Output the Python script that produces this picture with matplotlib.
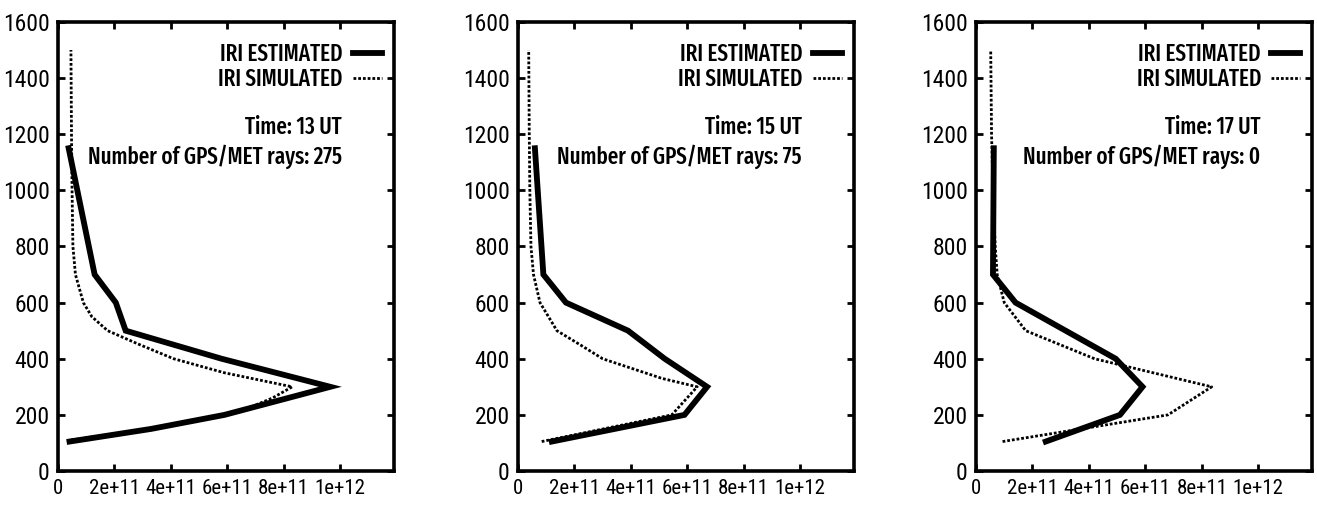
import matplotlib
matplotlib.use("Agg")
import matplotlib.pyplot as plt
from matplotlib import font_manager

# ---- data ----
times = ["13", "15", "17"]
rays = ["275", "75", "0"]

est_alt_13 = [105, 150, 200, 300, 400, 500, 600, 700, 1150]
est_ne_13 = [0.41e11, 3.3e11, 5.9e11, 9.65e11, 5.8e11, 2.4e11, 2.05e11, 1.3e11, 0.38e11]
sim_alt_13 = [110, 150, 210, 260, 300, 350, 400, 450, 500, 550, 600, 700, 800, 1000, 1200, 1500]
sim_ne_13 = [0.45e11, 3.2e11, 6.4e11, 7.6e11, 8.3e11, 5.9e11, 4.1e11, 2.9e11, 1.76e11,
             1.2e11, 0.9e11, 0.62e11, 0.53e11, 0.5e11, 0.48e11, 0.46e11]

est_alt_15 = [105, 200, 300, 400, 500, 600, 700, 1150]
est_ne_15 = [1.2e11, 5.9e11, 6.7e11, 5.2e11, 3.9e11, 1.7e11, 0.9e11, 0.6e11]
sim_alt_15 = [105, 200, 300, 330, 400, 450, 500, 600, 700, 800, 1000, 1200, 1500]
sim_ne_15 = [0.84e11, 5.45e11, 6.35e11, 5.1e11, 3.0e11, 2.2e11, 1.38e11, 0.78e11,
             0.55e11, 0.46e11, 0.42e11, 0.4e11, 0.38e11]

est_alt_17 = [105, 200, 300, 400, 600, 700, 1150]
est_ne_17 = [2.47e11, 5.1e11, 5.9e11, 4.95e11, 1.4e11, 0.6e11, 0.63e11]
sim_alt_17 = [105, 200, 300, 400, 500, 600, 700, 800, 1000, 1200, 1500]
sim_ne_17 = [0.94e11, 6.8e11, 8.35e11, 4.2e11, 1.76e11, 1.0e11, 0.75e11, 0.68e11,
             0.6e11, 0.55e11, 0.52e11]

panels = [
    (est_ne_13, est_alt_13, sim_ne_13, sim_alt_13),
    (est_ne_15, est_alt_15, sim_ne_15, sim_alt_15),
    (est_ne_17, est_alt_17, sim_ne_17, sim_alt_17),
]

xticks = [0, 2e11, 4e11, 6e11, 8e11, 1e12]
xticklabels = ["0", "2e+11", "4e+11", "6e+11", "8e+11", "1e+12"]
yticks = list(range(0, 1601, 200))


# ---- fonts ----
def pick(cands):
    for cand in cands:
        try:
            font_manager.findfont(font_manager.FontProperties(family=cand),
                                  fallback_to_default=False)
            return cand
        except Exception:
            continue
    return "DejaVu Sans"


tick_fam = pick(["Roboto Condensed", "Archivo Narrow", "PT Sans Narrow", "Liberation Sans"])
text_fam = pick(["Fira Sans Extra Condensed", "Sofia Sans Extra Condensed",
                 "Roboto Condensed", "Liberation Sans"])
plt.rcParams["font.family"] = [tick_fam, "DejaVu Sans"]

fig = plt.figure(figsize=(13.17, 5.08), dpi=100)
lefts = [0.0440, 0.3933, 0.7411]
bottom, height, width = 0.0728, 0.884, 0.255
TXT = 16.5
tfam = [text_fam, "DejaVu Sans"]

for i, (ene, ealt, sne, salt) in enumerate(panels):
    ax = fig.add_axes([lefts[i], bottom, width, height])
    ax.plot(ene, ealt, color="black", lw=4.2, solid_joinstyle="miter",
            label="IRI ESTIMATED")
    ax.plot(sne, salt, color="black", lw=2.0, linestyle=(0, (1.0, 0.7)),
            label="IRI SIMULATED")
    ax.set_xlim(0, 1.19e12)
    ax.set_ylim(0, 1600)
    ax.set_xticks(xticks)
    ax.set_xticklabels(xticklabels)
    ax.set_yticks(yticks)
    ax.tick_params(direction="in", top=True, right=True, length=5, width=2, pad=6)
    ax.tick_params(axis="y", labelsize=17)
    ax.tick_params(axis="x", labelsize=15)
    for sp in ax.spines.values():
        sp.set_linewidth(2.6)
    ax.legend(loc="upper right", bbox_to_anchor=(0.965, 0.953),
              markerfirst=False, frameon=False,
              prop={"family": tfam, "size": TXT, "weight": "medium"},
              handlelength=1.27, handletextpad=0.44, labelspacing=0.09,
              borderaxespad=0.0, borderpad=0.0)
    ax.text(0.846, 0.766, f"Time: {times[i]} UT", transform=ax.transAxes,
            ha="right", va="center", fontsize=TXT, family=tfam, weight="medium")
    ax.text(0.846, 0.699, f"Number of GPS/MET rays: {rays[i]}",
            transform=ax.transAxes, ha="right", va="center", fontsize=TXT,
            family=tfam, weight="medium")

fig.savefig("out.png", dpi=100)
